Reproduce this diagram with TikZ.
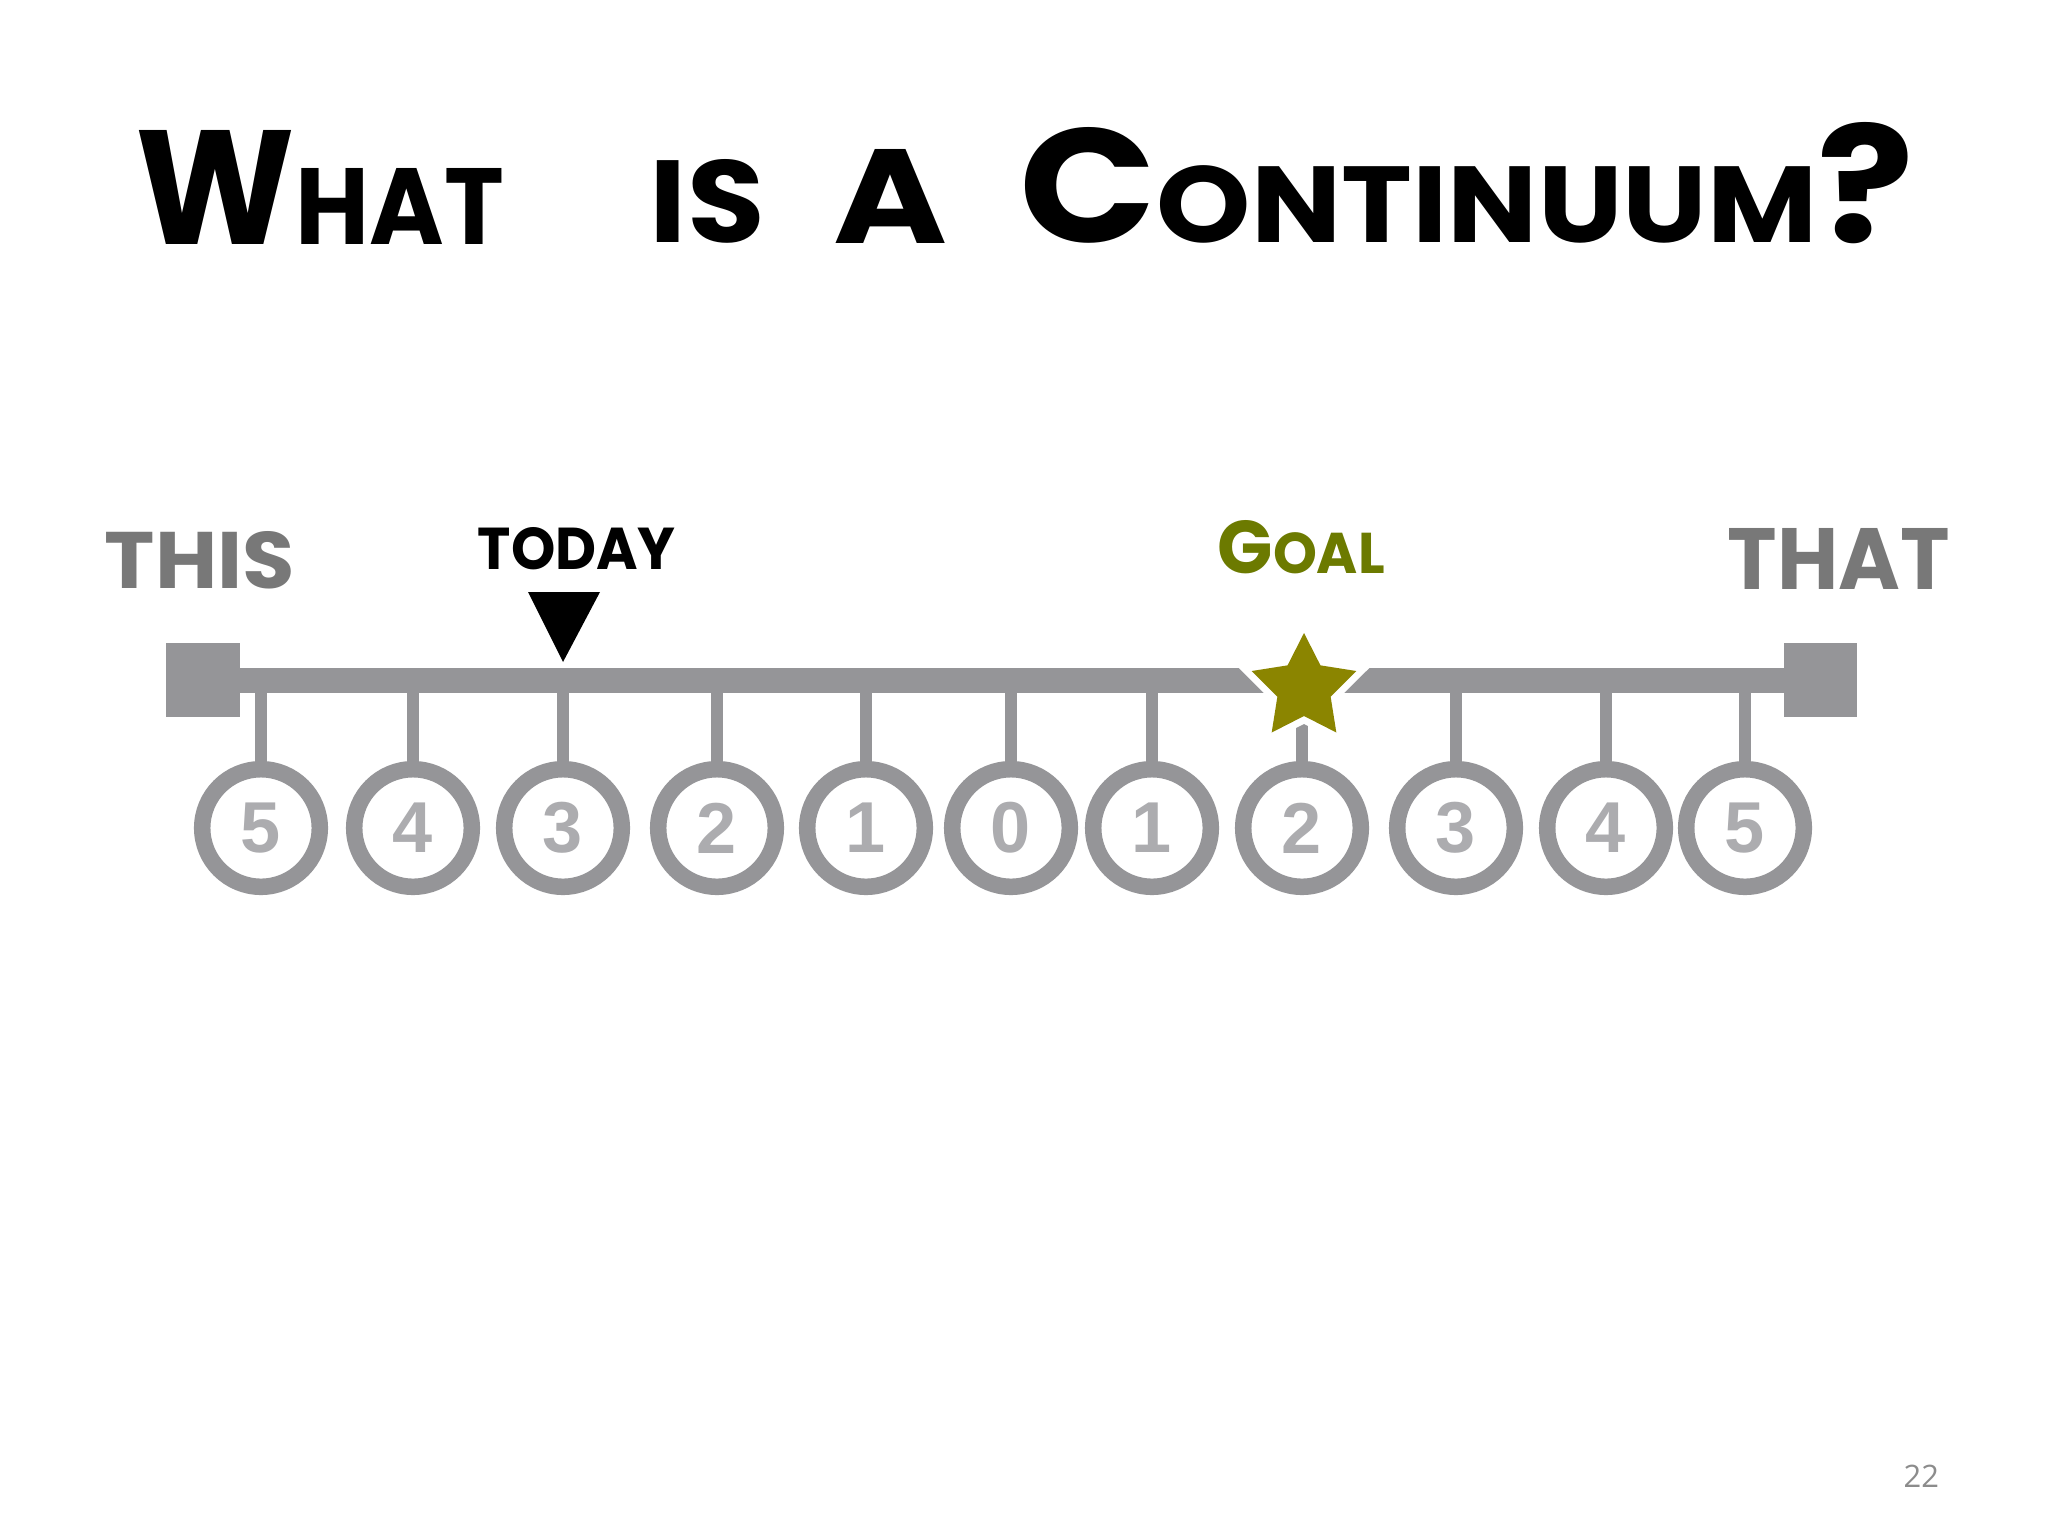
\documentclass[tikz,border=0pt]{standalone}
\usepackage{graphicx}
\usepackage{fontspec}
\setmainfont{Liberation Sans}
\newfontfamily\handfont{Poppins}
\newfontfamily\pagefont{Open Sans}
\definecolor{bargray}{RGB}{149,149,152}
\definecolor{digitgray}{RGB}{172,172,175}
\definecolor{labelgray}{RGB}{120,120,120}
\definecolor{goalolive}{RGB}{108,122,0}
\definecolor{starolive}{RGB}{139,133,0}
\definecolor{pagegray}{RGB}{140,140,140}
\newcommand{\fitbox}[3]{\resizebox{#1cm}{#2cm}{#3}}
\newcommand{\tbig}{\fontsize{30}{30}\selectfont}
\newcommand{\tsml}{\fontsize{20}{20}\selectfont}
\begin{document}
\begin{tikzpicture}[x=0.01cm,y=-0.01cm,
  barpart/.style={fill=bargray, inner sep=0pt, outer sep=0pt},
  ring/.style={circle, draw=bargray, fill=white, line width=0.165cm, minimum size=1.175cm, inner sep=0pt, text=digitgray, font=\fontsize{20.5}{20.5}\selectfont\bfseries},
  tick/.style={draw=bargray, line width=0.12cm},
  lbl/.style={anchor=south west, inner sep=0pt, font=\handfont\bfseries},
]
\fill[white] (0,0) rectangle (2048,1536);
\useasboundingbox (0,0) rectangle (2048,1536);

% title
\node[lbl] (w1) at (135,245) {\fitbox{3.68}{1.14}{\tbig W\tsml HAT}};
\node[lbl] (w2) at (649,244) {\fitbox{1.15}{0.83}{\tsml IS}};
\node[lbl] (w3) at (833,244) {\fitbox{1.14}{0.94}{\tsml A}};
\node[lbl] (w4) at (1019,244) {\fitbox{8.94}{1.20}{\tbig C\tsml ONTINUUM\tbig ?}};

% labels
\node[lbl, text=labelgray] (this) at (104,590) {\fitbox{1.90}{0.57}{THIS}};
\node[lbl] (today) at (477,571) {\fitbox{1.98}{0.42}{TODAY}};
\node[lbl, text=goalolive] (goal) at (1217,575) {\fitbox{1.67}{0.53}{{\fontsize{26}{26}\selectfont G}{\fontsize{20}{20}\selectfont OAL}}};
\node[lbl, text=labelgray] (that) at (1727,590) {\fitbox{2.22}{0.61}{THAT}};

% bar
\node[barpart, minimum width=15.44cm, minimum height=0.25cm] (bar) at (1012,680.5) {};
\node[barpart, minimum width=0.74cm, minimum height=0.74cm] (lend) at (203,680) {};
\node[barpart, minimum width=0.73cm, minimum height=0.74cm] (rend) at (1820.5,680) {};

% circles and ticks
\foreach \n/\x/\d in {1/261/5, 2/413/4, 3/563/3, 4/717/2, 5/866/1, 6/1011/0, 7/1152/1, 8/1302/2, 9/1456/3, 10/1606/4, 11/1745/5} {
  \node[ring] (c\n) at (\x,828) {\d};
  \draw[tick] (c\n.north |- bar.south) -- (c\n.north);
}

% today marker
\fill[black] (528,592) -- (600,592) -- (563,662) -- cycle;

% goal star
\foreach \i in {0,...,9} {
  \pgfmathsetmacro\ang{90+36*\i}
  \pgfmathsetmacro\rad{mod(\i,2)==0 ? 55 : 28}
  \coordinate (s\i) at ({1304+\rad*cos(\ang)},{688-\rad*sin(\ang)});
}
\draw[white, line width=0.14cm, line join=miter] (s0)--(s1)--(s2)--(s3)--(s4)--(s5)--(s6)--(s7)--(s8)--(s9)--cycle;
\fill[starolive] (s0)--(s1)--(s2)--(s3)--(s4)--(s5)--(s6)--(s7)--(s8)--(s9)--cycle;

% page number
\node[anchor=south west, inner sep=0pt, text=pagegray, font=\pagefont\fontsize{8.8}{10}\selectfont] (page) at (1903,1488) {22};
\end{tikzpicture}
\end{document}
